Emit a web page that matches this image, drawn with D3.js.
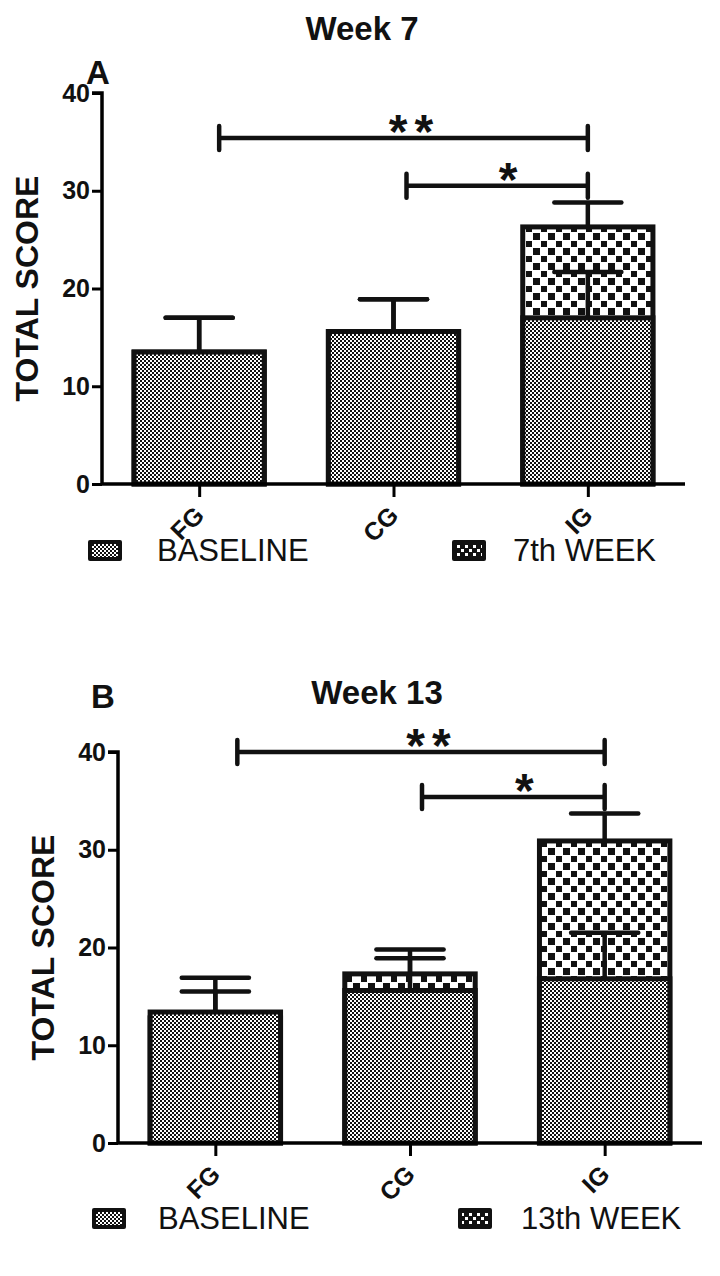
<!DOCTYPE html>
<html>
<head>
<meta charset="utf-8">
<script src="https://cdn.jsdelivr.net/npm/d3@7"></script>
<style>
  html, body { margin: 0; padding: 0; background: #fff; }
  svg { display: block; }
  text { font-family: "Liberation Sans", Arial, sans-serif; fill: #111; }
</style>
</head>
<body>
<svg id="chart" width="720" height="1276"></svg>
<script>
// ---------- data ----------
const categories = ["FG", "CG", "IG"];
const yTicks = [0, 10, 20, 30, 40];

// Panel A (Week 7)
const baselineA = [13.5, 15.6, 17.0];
const baselineErrA = [3.5, 3.3, 4.7];
const week7A = [13.5, 15.6, 26.3];
const week7ErrA = [3.5, 3.3, 2.5];
const sigA = [ { from: "FG", to: "IG", level: 35.4, label: "**" },
               { from: "CG", to: "IG", level: 30.5, label: "*" } ];

// Panel B (Week 13)
const baselineB = [13.4, 15.6, 16.8];
const baselineErrB = [3.5, 3.3, 4.7];
const week13B = [12.8, 17.3, 30.9];
const week13ErrB = [2.7, 2.5, 2.8];
const sigB = [ { from: "FG", to: "IG", level: 40.0, label: "**" },
               { from: "CG", to: "IG", level: 35.4, label: "*" } ];

const svg = d3.select("#chart");
const defs = svg.append("defs");

// fine checker (baseline)
const pf = defs.append("pattern").attr("id", "fine").attr("patternUnits", "userSpaceOnUse")
  .attr("width", 4).attr("height", 4);
pf.append("rect").attr("width", 4).attr("height", 4).attr("fill", "#fff");
pf.append("rect").attr("width", 2).attr("height", 2).attr("fill", "#111");
pf.append("rect").attr("x", 2).attr("y", 2).attr("width", 2).attr("height", 2).attr("fill", "#111");

// coarse checker (week)
const pc = defs.append("pattern").attr("id", "coarse").attr("patternUnits", "userSpaceOnUse")
  .attr("width", 15).attr("height", 15);
pc.append("rect").attr("width", 15).attr("height", 15).attr("fill", "#fff");
pc.append("rect").attr("x", 1).attr("y", 1).attr("width", 6).attr("height", 6).attr("fill", "#111");
pc.append("rect").attr("x", 8).attr("y", 8).attr("width", 7).attr("height", 7).attr("fill", "#111");

// legend coarse (white squares on black)
const pl = defs.append("pattern").attr("id", "legcoarse").attr("patternUnits", "userSpaceOnUse")
  .attr("width", 8).attr("height", 8);
pl.append("rect").attr("width", 8).attr("height", 8).attr("fill", "#111");
pl.append("rect").attr("x", 1).attr("y", 1).attr("width", 3).attr("height", 3).attr("fill", "#fff");
pl.append("rect").attr("x", 5).attr("y", 5).attr("width", 3).attr("height", 3).attr("fill", "#fff");

function panel(cfg) {
  const g = svg.append("g");
  const x = d3.scalePoint().domain(categories).range([cfg.left, cfg.right]).padding(0.5);
  const y = d3.scaleLinear().domain([0, 40]).range([cfg.bottom, cfg.top]);
  const step = x.step();
  const bw = step * 0.67;
  const capW = step * 0.345;

  // title and letter
  g.append("text").attr("x", cfg.titleX).attr("y", cfg.titleY).attr("text-anchor", "middle")
    .style("font-size", "33px").style("font-weight", "bold").text(cfg.title);
  g.append("text").attr("x", cfg.letterX).attr("y", cfg.letterY)
    .style("font-size", "33px").style("font-weight", "bold").text(cfg.letter);

  // y axis label
  g.append("text").attr("transform", `translate(${cfg.ylabX},${(y(0) + y(40)) / 2}) rotate(-90)`)
    .attr("text-anchor", "middle").style("font-size", "32px").style("font-weight", "bold")
    .text("TOTAL SCORE");

  const rows = categories.map((c, i) => ({
    c, base: cfg.base[i], baseErr: cfg.baseErr[i], week: cfg.week[i], weekErr: cfg.weekErr[i]
  }));

  function drawSeries(valKey, errKey, fill) {
    const s = g.append("g");
    s.selectAll("line.ev").data(rows).join("line")
      .attr("x1", d => x(d.c)).attr("x2", d => x(d.c))
      .attr("y1", d => y(d[valKey])).attr("y2", d => y(d[valKey] + d[errKey]))
      .attr("stroke", "#111").attr("stroke-width", 4.5);
    s.selectAll("line.ec").data(rows).join("line")
      .attr("x1", d => x(d.c) - capW / 2).attr("x2", d => x(d.c) + capW / 2)
      .attr("y1", d => y(d[valKey] + d[errKey])).attr("y2", d => y(d[valKey] + d[errKey]))
      .attr("stroke", "#111").attr("stroke-width", 4.5).attr("stroke-linecap", "round");
    s.selectAll("rect").data(rows).join("rect")
      .attr("x", d => x(d.c) - bw / 2).attr("width", bw)
      .attr("y", d => y(d[valKey])).attr("height", d => y(0) - y(d[valKey]))
      .attr("fill", fill).attr("stroke", "#111").attr("stroke-width", 5);
    return s;
  }
  // week bars behind, baseline in front
  drawSeries("week", "weekErr", "url(#coarse)");
  const bs = g.append("g");
  bs.selectAll("rect").data(rows).join("rect")
    .attr("x", d => x(d.c) - bw / 2).attr("width", bw)
    .attr("y", d => y(d.base)).attr("height", d => y(0) - y(d.base))
    .attr("fill", "url(#fine)").attr("stroke", "#111").attr("stroke-width", 5);
  bs.selectAll("line.ev").data(rows).join("line")
    .attr("x1", d => x(d.c)).attr("x2", d => x(d.c))
    .attr("y1", d => y(d.base)).attr("y2", d => y(d.base + d.baseErr))
    .attr("stroke", "#111").attr("stroke-width", 4.5);
  bs.selectAll("line.ec").data(rows).join("line")
    .attr("x1", d => x(d.c) - capW / 2).attr("x2", d => x(d.c) + capW / 2)
    .attr("y1", d => y(d.base + d.baseErr)).attr("y2", d => y(d.base + d.baseErr))
    .attr("stroke", "#111").attr("stroke-width", 4.5).attr("stroke-linecap", "round");

  // axes
  const ya = g.append("g").attr("transform", `translate(${cfg.left},0)`)
    .call(d3.axisLeft(y).tickValues(yTicks).tickSize(10).tickPadding(2));
  ya.select(".domain").attr("stroke-width", 3.5).attr("d", `M0,${y(0)}V${y(40)}H-10`);
  ya.selectAll(".tick line").attr("stroke-width", 3);
  ya.selectAll(".tick text").style("font-size", "25px").style("font-weight", "bold")
    .style("font-family", '"Liberation Sans", Arial, sans-serif').attr("fill", "#111");

  const xa = g.append("g").attr("transform", `translate(0,${y(0)})`)
    .call(d3.axisBottom(x).tickSize(13).tickSizeOuter(0));
  xa.select(".domain").attr("stroke-width", 3.5).attr("d", `M${cfg.left},0H${cfg.right}`);
  xa.selectAll(".tick line").attr("stroke-width", 3);
  xa.selectAll(".tick text").style("font-size", "25px").style("font-weight", "bold")
    .style("font-family", '"Liberation Sans", Arial, sans-serif').attr("fill", "#111")
    .attr("text-anchor", "end").attr("dy", null).attr("y", 0)
    .attr("transform", "translate(6,33) rotate(-45)");

  // significance brackets
  const sg = g.append("g");
  cfg.sig.forEach(s => {
    const x1 = x(s.from) + cfg.sigOffset[s.from];
    const x2 = x(s.to);
    const yy = y(s.level);
    sg.append("line").attr("x1", x1).attr("x2", x2).attr("y1", yy).attr("y2", yy)
      .attr("stroke", "#111").attr("stroke-width", 4.5);
    [x1, x2].forEach(xx => sg.append("line").attr("x1", xx).attr("x2", xx)
      .attr("y1", yy - 12).attr("y2", yy + 12).attr("stroke", "#111")
      .attr("stroke-width", 4.5).attr("stroke-linecap", "round"));
    sg.append("text").attr("x", (x1 + x2) / 2 + 11).attr("y", yy + 10)
      .attr("text-anchor", "middle").style("font-size", "48px").style("font-weight", "bold")
      .style("letter-spacing", s.label.length > 1 ? "7px" : "0px")
      .text(s.label);
  });

  // legend
  const lg = g.append("g");
  const items = [ { name: "BASELINE", fill: "url(#fine)", x: cfg.leg1, tx: cfg.legT1 },
                  { name: cfg.weekName, fill: "url(#legcoarse)", x: cfg.leg2, tx: cfg.legT2 } ];
  items.forEach(it => {
    lg.append("rect").attr("x", it.x).attr("y", cfg.legY - 10).attr("width", 34).attr("height", 21)
      .attr("rx", 2).attr("fill", "#111");
    lg.append("rect").attr("x", it.x + 4).attr("y", cfg.legY - 6).attr("width", 26).attr("height", 13)
      .attr("fill", it.fill);
    lg.append("text").attr("x", it.tx).attr("y", cfg.legY + 11)
      .style("font-size", "31px").text(it.name);
  });
}

panel({
  title: "Week 7", titleX: 362, titleY: 40, letter: "A", letterX: 86, letterY: 84,
  left: 102, right: 685, top: 93, bottom: 484, ylabX: 38,
  base: baselineA, baseErr: baselineErrA, week: week7A, weekErr: week7ErrA,
  sig: sigA, sigOffset: { FG: 20, CG: 13 },
  weekName: "7th WEEK", legY: 550, leg1: 88, legT1: 157, leg2: 452, legT2: 513
});
panel({
  title: "Week 13", titleX: 377, titleY: 704, letter: "B", letterX: 91, letterY: 708,
  left: 118, right: 702, top: 752, bottom: 1143, ylabX: 54,
  base: baselineB, baseErr: baselineErrB, week: week13B, weekErr: week13ErrB,
  sig: sigB, sigOffset: { FG: 22, CG: 12 },
  weekName: "13th WEEK", legY: 1218, leg1: 92, legT1: 158, leg2: 458, legT2: 521
});
</script>
</body>
</html>
